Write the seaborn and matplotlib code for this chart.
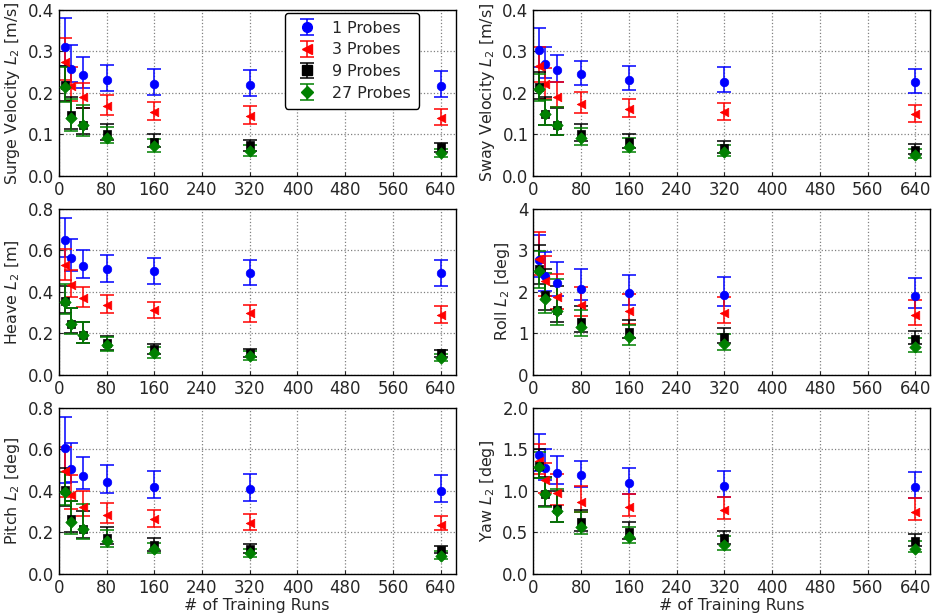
import matplotlib
matplotlib.use("Agg")
import matplotlib.pyplot as plt
from matplotlib.lines import Line2D
import seaborn as sns
import pandas as pd

runs = [10, 20, 40, 80, 160, 320, 640]
series = ["1 Probes", "3 Probes", "9 Probes", "27 Probes"]
colors = ["blue", "red", "black", "green"]
markers = ["o", "<", "s", "D"]

# Surge velocity
surge_val = [[0.310, 0.257, 0.243, 0.231, 0.222, 0.219, 0.217],
             [0.274, 0.217, 0.190, 0.168, 0.153, 0.145, 0.140],
             [0.219, 0.147, 0.122, 0.100, 0.082, 0.073, 0.069],
             [0.215, 0.138, 0.122, 0.091, 0.071, 0.060, 0.054]]
surge_hi = [[0.380, 0.316, 0.287, 0.267, 0.258, 0.254, 0.252],
            [0.332, 0.263, 0.224, 0.195, 0.178, 0.167, 0.162],
            [0.265, 0.190, 0.163, 0.124, 0.100, 0.087, 0.080],
            [0.262, 0.185, 0.170, 0.118, 0.088, 0.075, 0.065]]
surge_lo = [[0.265, 0.225, 0.212, 0.205, 0.195, 0.192, 0.190],
            [0.230, 0.180, 0.163, 0.147, 0.135, 0.125, 0.122],
            [0.180, 0.113, 0.100, 0.085, 0.070, 0.060, 0.058],
            [0.178, 0.108, 0.095, 0.080, 0.058, 0.048, 0.044]]

# Sway velocity
sway_val = [[0.302, 0.269, 0.256, 0.245, 0.232, 0.227, 0.225],
            [0.265, 0.222, 0.190, 0.173, 0.160, 0.154, 0.150],
            [0.215, 0.148, 0.123, 0.100, 0.082, 0.067, 0.063],
            [0.209, 0.148, 0.123, 0.092, 0.070, 0.057, 0.051]]
sway_hi = [[0.356, 0.311, 0.290, 0.276, 0.265, 0.261, 0.257],
           [0.310, 0.260, 0.225, 0.202, 0.184, 0.176, 0.171],
           [0.250, 0.190, 0.163, 0.125, 0.101, 0.083, 0.077],
           [0.245, 0.183, 0.165, 0.115, 0.090, 0.073, 0.065]]
sway_lo = [[0.262, 0.235, 0.225, 0.219, 0.207, 0.203, 0.200],
           [0.225, 0.185, 0.165, 0.152, 0.142, 0.134, 0.130],
           [0.185, 0.122, 0.098, 0.083, 0.067, 0.055, 0.052],
           [0.180, 0.122, 0.097, 0.075, 0.057, 0.047, 0.042]]

# Heave
heave_val = [[0.651, 0.565, 0.526, 0.511, 0.498, 0.492, 0.492],
             [0.527, 0.433, 0.369, 0.335, 0.311, 0.296, 0.290],
             [0.355, 0.245, 0.191, 0.155, 0.125, 0.107, 0.103],
             [0.353, 0.245, 0.192, 0.143, 0.103, 0.089, 0.080]]
heave_hi = [[0.755, 0.657, 0.600, 0.578, 0.561, 0.555, 0.553],
            [0.608, 0.505, 0.421, 0.383, 0.352, 0.335, 0.332],
            [0.430, 0.320, 0.255, 0.188, 0.150, 0.125, 0.118],
            [0.440, 0.321, 0.255, 0.180, 0.135, 0.115, 0.100]]
heave_lo = [[0.570, 0.499, 0.466, 0.447, 0.437, 0.431, 0.430],
            [0.459, 0.374, 0.326, 0.297, 0.272, 0.256, 0.251],
            [0.300, 0.200, 0.153, 0.120, 0.100, 0.088, 0.087],
            [0.295, 0.196, 0.154, 0.115, 0.083, 0.072, 0.065]]

# Roll
roll_val = [[2.76, 2.39, 2.22, 2.08, 1.97, 1.93, 1.89],
            [2.80, 2.25, 1.88, 1.68, 1.54, 1.48, 1.43],
            [2.56, 1.93, 1.55, 1.27, 1.04, 0.92, 0.86],
            [2.49, 1.83, 1.54, 1.16, 0.91, 0.75, 0.68]]
roll_hi = [[3.37, 2.95, 2.73, 2.54, 2.41, 2.35, 2.34],
           [3.44, 2.87, 2.43, 2.12, 1.94, 1.87, 1.81],
           [3.12, 2.56, 2.13, 1.66, 1.33, 1.13, 1.05],
           [2.98, 2.45, 2.30, 1.55, 1.20, 0.98, 0.88]]
roll_lo = [[2.35, 2.02, 1.90, 1.81, 1.69, 1.65, 1.61],
           [2.40, 1.90, 1.58, 1.42, 1.23, 1.24, 1.20],
           [2.20, 1.55, 1.28, 1.04, 0.88, 0.77, 0.73],
           [2.10, 1.48, 1.20, 0.93, 0.72, 0.60, 0.54]]

# Pitch
pitch_val = [[0.605, 0.505, 0.473, 0.445, 0.420, 0.409, 0.399],
             [0.495, 0.380, 0.322, 0.285, 0.262, 0.243, 0.236],
             [0.405, 0.262, 0.218, 0.175, 0.139, 0.121, 0.117],
             [0.396, 0.250, 0.215, 0.160, 0.120, 0.099, 0.088]]
pitch_hi = [[0.755, 0.632, 0.565, 0.523, 0.495, 0.483, 0.478],
            [0.612, 0.478, 0.399, 0.343, 0.307, 0.288, 0.277],
            [0.510, 0.350, 0.305, 0.225, 0.173, 0.145, 0.135],
            [0.490, 0.350, 0.335, 0.210, 0.150, 0.120, 0.110]]
pitch_lo = [[0.440, 0.441, 0.409, 0.390, 0.365, 0.352, 0.346],
            [0.370, 0.312, 0.281, 0.246, 0.228, 0.212, 0.209],
            [0.325, 0.200, 0.173, 0.142, 0.112, 0.100, 0.100],
            [0.330, 0.190, 0.170, 0.130, 0.100, 0.080, 0.073]]

# Yaw
yaw_val = [[1.43, 1.28, 1.21, 1.19, 1.09, 1.06, 1.05],
           [1.36, 1.13, 0.98, 0.86, 0.80, 0.77, 0.75],
           [1.30, 0.96, 0.78, 0.63, 0.50, 0.43, 0.39],
           [1.29, 0.96, 0.76, 0.57, 0.44, 0.35, 0.30]]
yaw_hi = [[1.68, 1.50, 1.42, 1.36, 1.28, 1.24, 1.23],
          [1.56, 1.33, 1.20, 1.06, 0.96, 0.93, 0.91],
          [1.50, 1.17, 1.00, 0.77, 0.62, 0.52, 0.48],
          [1.47, 1.15, 1.02, 0.74, 0.57, 0.45, 0.40]]
yaw_lo = [[1.24, 1.13, 1.08, 1.05, 0.96, 0.92, 0.91],
          [1.20, 0.97, 0.83, 0.74, 0.70, 0.66, 0.65],
          [1.15, 0.82, 0.62, 0.52, 0.42, 0.36, 0.33],
          [1.15, 0.81, 0.63, 0.48, 0.37, 0.29, 0.26]]

panels = [
    ("Surge Velocity $L_2$ [m/s]", surge_val, surge_lo, surge_hi, 0.4, [0.0, 0.1, 0.2, 0.3, 0.4], "{:.1f}"),
    ("Sway Velocity $L_2$ [m/s]", sway_val, sway_lo, sway_hi, 0.4, [0.0, 0.1, 0.2, 0.3, 0.4], "{:.1f}"),
    ("Heave $L_2$ [m]", heave_val, heave_lo, heave_hi, 0.8, [0.0, 0.2, 0.4, 0.6, 0.8], "{:.1f}"),
    ("Roll $L_2$ [deg]", roll_val, roll_lo, roll_hi, 4, [0, 1, 2, 3, 4], "{:.0f}"),
    ("Pitch $L_2$ [deg]", pitch_val, pitch_lo, pitch_hi, 0.8, [0.0, 0.2, 0.4, 0.6, 0.8], "{:.1f}"),
    ("Yaw $L_2$ [deg]", yaw_val, yaw_lo, yaw_hi, 2.0, [0.0, 0.5, 1.0, 1.5, 2.0], "{:.1f}"),
]
xticks = [0, 80, 160, 240, 320, 400, 480, 560, 640]

sns.set_style("ticks")
plt.rcParams["font.family"] = ["DejaVu Sans"]
FS = 9.5

fig, axes = plt.subplots(3, 2, figsize=(9.33, 6.15), dpi=100)
fig.subplots_adjust(left=0.063, right=0.997, top=0.984, bottom=0.067, wspace=0.196, hspace=0.2)

legend_handles = []
for idx, (ax, (ylabel, vals, los, his, ymax, yt, fmt)) in enumerate(zip(axes.flat, panels)):
    for s in range(4):
        v = vals[s]
        lower = [vi - li for vi, li in zip(v, los[s])]
        upper = [hi - vi for vi, hi in zip(v, his[s])]
        ec = ax.errorbar(runs, v, yerr=[lower, upper], fmt="none", ecolor=colors[s],
                         elinewidth=1.1, capsize=5, capthick=1.1, zorder=2)
        df = pd.DataFrame({"runs": runs, "val": v})
        sns.scatterplot(data=df, x="runs", y="val", ax=ax, color=colors[s], marker=markers[s],
                        s=38 if markers[s] != "D" else 34, edgecolor=colors[s], linewidth=0.5,
                        zorder=3, legend=False)
        if idx == 0:
            mk = Line2D([], [], color=colors[s], marker=markers[s], linestyle="none",
                        markersize=7 if markers[s] != "D" else 6)
            legend_handles.append((ec, mk))
    ax.set_xlim(0, 665)
    ax.set_ylim(0, ymax)
    ax.set_xticks(xticks)
    ax.set_yticks(yt)
    ax.set_yticklabels([fmt.format(t) for t in yt])
    ax.grid(True, color="gray", linestyle=":", linewidth=0.9)
    ax.set_axisbelow(True)
    ax.tick_params(labelsize=FS * 1.25, direction="in", length=3)
    ax.set_ylabel(ylabel, fontsize=FS * 1.2)
    if idx >= 4:
        ax.set_xlabel("# of Training Runs", fontsize=FS * 1.2, labelpad=1)
    else:
        ax.set_xlabel("")
    for sp in ax.spines.values():
        sp.set_color("black")
        sp.set_linewidth(1.0)

axes[0, 0].legend(legend_handles, series, loc="upper left", bbox_to_anchor=(0.55, 1.03),
                  fontsize=FS * 1.2, frameon=True, edgecolor="black", fancybox=True,
                  framealpha=1.0, handlelength=1.8, handletextpad=0.7,
                  borderpad=0.5, labelspacing=0.42)

fig.savefig("out.png", dpi=100)
